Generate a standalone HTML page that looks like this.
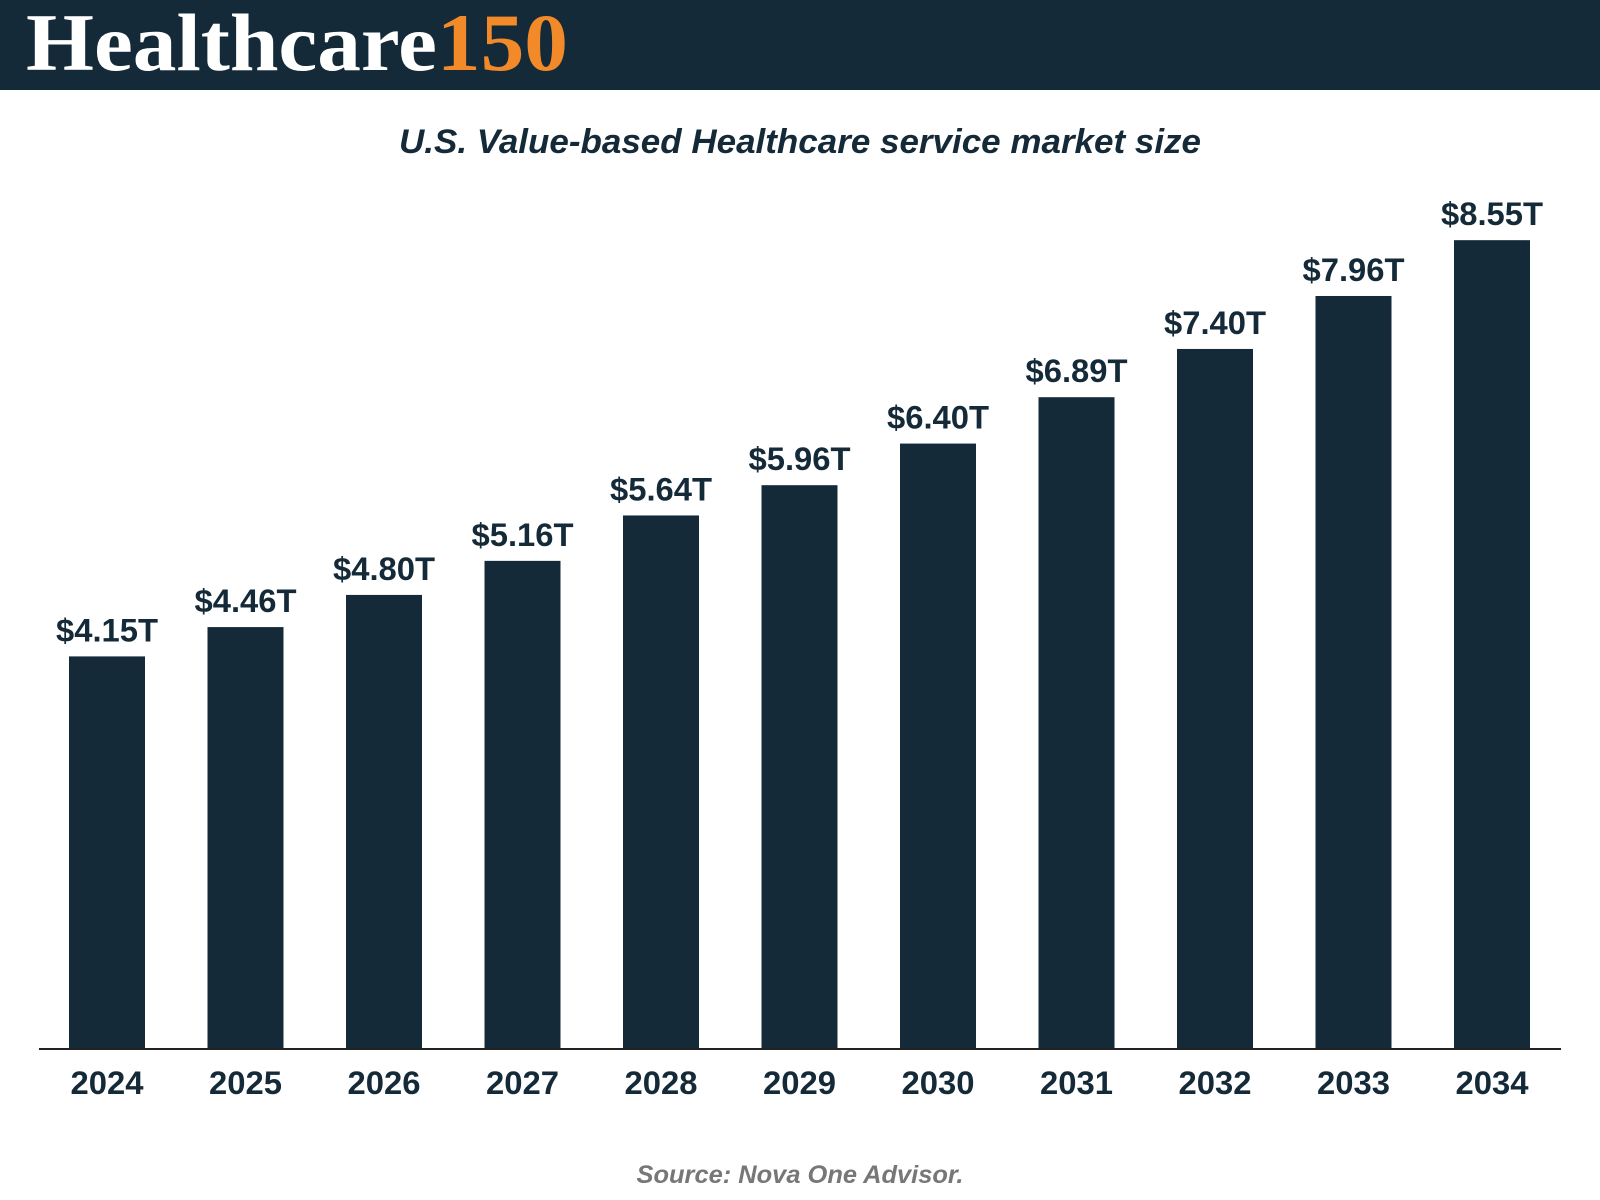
<!DOCTYPE html>
<html><head><meta charset="utf-8"><style>
html,body{margin:0;padding:0;background:#fff;width:1600px;height:1200px;overflow:hidden}
</style></head><body>
<svg id="chart" width="1600" height="1200" xmlns="http://www.w3.org/2000/svg">
<rect x="0" y="0" width="1600" height="90" fill="#152a38"/>
<text x="26" y="70" font-family="Liberation Serif, serif" font-weight="bold" font-size="82" textLength="542" lengthAdjust="spacingAndGlyphs"><tspan fill="#ffffff">Healthcare</tspan><tspan fill="#f28a2a">150</tspan></text>
<text x="800" y="153" text-anchor="middle" font-family="Liberation Sans, sans-serif" font-weight="bold" font-style="italic" font-size="34" fill="#152a38" textLength="802" lengthAdjust="spacingAndGlyphs">U.S. Value-based Healthcare service market size</text>
<g id="bars"></g>
<line x1="39" y1="1049" x2="1561" y2="1049" stroke="#222" stroke-width="2"/>
<text x="800" y="1183" text-anchor="middle" font-family="Liberation Sans, sans-serif" font-weight="bold" font-style="italic" font-size="25" fill="#777" textLength="327" lengthAdjust="spacingAndGlyphs">Source: Nova One Advisor.</text>
</svg>
<script>
const years = ["2024","2025","2026","2027","2028","2029","2030","2031","2032","2033","2034"];
const values = [4.15,4.46,4.80,5.16,5.64,5.96,6.40,6.89,7.40,7.96,8.55];
const valueLabels = ["$4.15T","$4.46T","$4.80T","$5.16T","$5.64T","$5.96T","$6.40T","$6.89T","$7.40T","$7.96T","$8.55T"];

const NS = "http://www.w3.org/2000/svg";
const baseY = 1049, pxPerUnit = 94.6;
const firstCenter = 107, step = 138.5, barW = 76;
function xCenter(i){ return firstCenter + i*step; }
function yPos(v){ return baseY - v*pxPerUnit; }
const g = document.getElementById('bars');
years.forEach((yr,i)=>{
  const v = values[i];
  const r = document.createElementNS(NS,'rect');
  r.setAttribute('x', xCenter(i)-barW/2);
  r.setAttribute('y', yPos(v));
  r.setAttribute('width', barW);
  r.setAttribute('height', baseY - yPos(v));
  r.setAttribute('fill', '#152a38');
  
  
  g.appendChild(r);
  const t = document.createElementNS(NS,'text');
  t.setAttribute('x', xCenter(i));
  t.setAttribute('y', yPos(v) - 15);
  t.setAttribute('text-anchor','middle');
  t.setAttribute('font-family','Liberation Sans, sans-serif');
  t.setAttribute('font-weight','bold');
  t.setAttribute('font-size','32');
  t.setAttribute('textLength','102');
  t.setAttribute('lengthAdjust','spacingAndGlyphs');
  t.setAttribute('fill','#152a38');
  t.textContent = valueLabels[i];
  
  
  g.appendChild(t);
  const l = document.createElementNS(NS,'text');
  l.setAttribute('x', xCenter(i));
  l.setAttribute('y', 1094);
  l.setAttribute('text-anchor','middle');
  l.setAttribute('font-family','Liberation Sans, sans-serif');
  l.setAttribute('font-weight','bold');
  l.setAttribute('font-size','32');
  l.setAttribute('textLength','73');
  l.setAttribute('lengthAdjust','spacingAndGlyphs');
  l.setAttribute('fill','#152a38');
  l.textContent = yr;
  
  
  g.appendChild(l);
});
</script>
</body></html>
